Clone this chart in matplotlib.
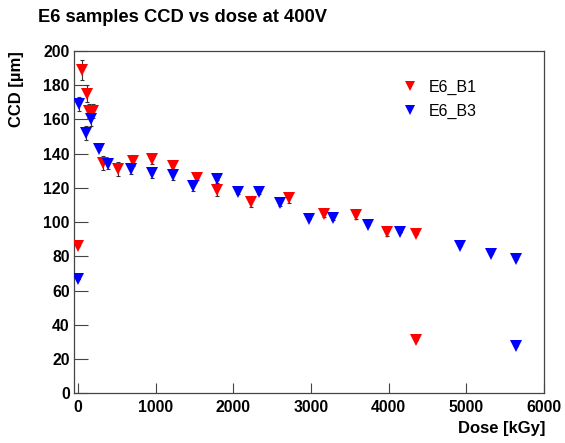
import matplotlib
matplotlib.use("Agg")
import matplotlib.pyplot as plt
import numpy as np

plt.rcParams['font.family'] = ['Liberation Sans', 'DejaVu Sans']

# Data
b1_dose = [0, 55, 112, 142, 197, 326, 519, 712, 952, 1219, 1527, 1793, 2222, 2719, 3166, 3578, 3981, 4354, 4354]
b1_ccd = [86, 189, 175, 165, 165, 134.5, 131, 136, 137, 133, 126, 119, 112, 114, 105, 104, 94, 93, 31]
b1_err = [0, 6, 5, 4, 4, 4, 4, 3, 3, 2, 1.5, 4, 3, 3, 2, 2, 2, 0, 0]

b3_dose = [0, 17, 103, 167, 274, 382, 678, 952, 1227, 1484, 1785, 2059, 2333, 2600, 2969, 3278, 3732, 4144, 4912, 5319, 5637, 5637]
b3_ccd = [67, 169, 152, 160, 143, 134, 131, 129, 127.5, 121, 125.5, 117.5, 117.5, 111, 102, 102.5, 98.4, 94.3, 86, 81.5, 78.3, 27.6]
b3_err = [0, 4, 4, 4, 1, 3, 3, 3, 3, 3, 1, 1, 1, 1.5, 0, 1, 0, 0, 0, 0, 0, 0]

y_ticks = [0, 20, 40, 60, 80, 100, 120, 140, 160, 180, 200]
x_ticks = [0, 1000, 2000, 3000, 4000, 5000, 6000]

W, H = 565, 443
fig = plt.figure(figsize=(W / 100, H / 100), dpi=100)
L, R, T, B = 74, 544, 51, 393.3
ax = fig.add_axes([L / W, 1 - B / H, (R - L) / W, (B - T) / H])

for x, y, e, c in [(b1_dose, b1_ccd, b1_err, 'red'), (b3_dose, b3_ccd, b3_err, 'blue')]:
    ax.errorbar(x, y, yerr=e, fmt='none', ecolor='#333333', elinewidth=0.8,
                capsize=1.6, capthick=0.8, zorder=2)
for x, y, c, lab in [(b1_dose, b1_ccd, 'red', 'E6_B1'), (b3_dose, b3_ccd, 'blue', 'E6_B3')]:
    ax.plot(x, y, linestyle='none', marker='v', color=c, markersize=8.2,
            markeredgewidth=0, label=lab, zorder=3)

ax.set_xlim(-52, 6000)
ax.set_ylim(0, 200)
ax.set_xticks(x_ticks)
ax.set_yticks(y_ticks)
ax.set_xticklabels([str(v) for v in x_ticks], fontweight='bold', fontsize=11.3)
ax.set_yticklabels([str(v) for v in y_ticks], fontweight='bold', fontsize=11.3)
ax.tick_params(axis='x', direction='in', length=7.2, width=0.8, color='#444444', pad=5)
ax.tick_params(axis='y', direction='in', length=10, width=0.8, color='#444444', pad=3)
ax.minorticks_off()
for s in ax.spines.values():
    s.set_color('#444444')
    s.set_linewidth(0.9)

fig.text(38 / W, 1 - 9 / H, 'E6 samples CCD vs dose at 400V', fontsize=13.2,
         fontweight='bold', ha='left', va='top')
fig.text(545 / W, 1 - 421 / H, 'Dose [kGy]', fontsize=12, fontweight='bold',
         ha='right', va='top')
fig.text(17 / W, 1 - 51 / H, 'CCD [µm]', fontsize=12, fontweight='bold',
         rotation=90, ha='center', va='top')

ax.legend(loc='upper left', bbox_to_anchor=(392 / W, 1 - 72 / H),
          bbox_transform=fig.transFigure, frameon=False, fontsize=11.5,
          handlelength=1.2, handletextpad=0.6, labelspacing=0.55, borderpad=0,
          markerscale=0.95)

fig.savefig('out.png', dpi=100)
